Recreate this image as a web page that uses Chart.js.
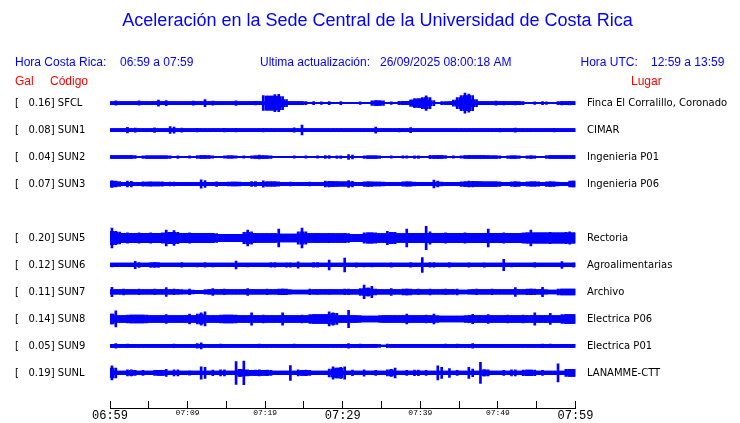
<!DOCTYPE html>
<html><head><meta charset="utf-8">
<script src="https://cdn.jsdelivr.net/npm/chart.js@4.4.1/dist/chart.umd.min.js"></script>
<style>html,body{margin:0;padding:0;background:#fff}</style>
</head><body>
<canvas id="c" width="740" height="423"></canvas>
<script>
// ---- data ----
const codes = ['SFCL','SUN1','SUN2','SUN3','SUN5','SUN6','SUN7','SUN8','SUN9','SUNL'];
const peakGal = [0.16,0.08,0.04,0.07,0.20,0.12,0.11,0.14,0.05,0.19];
const places = ['Finca El Corralillo, Coronado','CIMAR','Ingenieria P01','Ingenieria P06','Rectoria','Agroalimentarias','Archivo','Electrica P06','Electrica P01','LANAMME-CTT'];
const rowIndex = [0,1,2,3,5,6,7,8,9,10];           // SUN4 slot is empty
const timeLabels = ['06:59','07:09','07:19','07:29','07:39','07:49','07:59'];
const binMinutes = 0.5;                              // envelope bins (half minute)

// half-amplitude envelopes in mGal, one value per half-minute bin (06:59 -> 07:59)
const envSFCL = [
 26,35,26,26,26,26,26,35,26,26, 26,26,48,26,42,26,26,26,26,26,
 26,32,26,26,56,26,32,26,26,26, 26,26,37,26,26,26,26,29,26,120,
 113,113,137,140,105,56,24,24,24,24, 24,11,24,11,21,11,24,11,11,24,
 11,11,11,11,21,11,11,37,42,37, 37,11,21,11,27,27,27,53,72,69,
 89,118,89,40,11,24,21,24,48,89, 121,161,145,121,56,24,24,24,24,32,
 24,29,24,24,29,24,24,11,11,21, 11,24,21,11,11,26,29,26,29,26];
const envSUN1 = [
 24,24,24,24,45,24,32,24,24,24, 24,37,24,24,24,56,50,24,32,24,
 24,24,29,24,24,24,24,24,24,29, 24,24,29,24,24,24,24,24,24,29,
 24,24,24,24,24,24,24,35,24,80, 24,24,24,24,24,24,24,24,24,24,
 24,24,24,24,24,24,24,24,48,24, 24,24,24,24,29,24,24,40,24,24,
 24,24,24,24,24,24,24,24,24,24, 24,24,24,24,24,24,24,24,24,24,
 29,24,24,24,32,24,24,24,24,24, 24,24,24,24,29,24,24,24,24,24];
const envSUN2 = [
 24,24,24,24,24,24,24,11,21,21, 21,21,21,21,21,21,11,21,11,11,
 18,11,24,24,24,24,18,11,11,18, 18,18,18,11,18,11,21,21,32,24,
 21,21,11,11,11,11,11,18,11,11, 18,11,11,18,11,24,24,11,21,21,
 11,40,30,11,11,21,21,21,21,21, 11,11,18,11,11,18,18,11,21,21,
 11,11,27,24,24,24,24,11,18,11, 18,24,24,24,24,24,24,24,21,21,
 21,11,21,21,21,21,11,21,21,21, 11,11,24,24,24,24,24,24,24,24];
const envSUN3 = [
 53,48,40,27,48,45,27,27,35,30, 35,32,30,35,27,32,32,27,27,27,
 27,27,27,67,56,27,27,37,27,27, 32,32,32,32,27,27,40,40,27,51,
 35,35,35,35,27,27,32,27,27,27, 27,32,27,27,27,48,45,40,40,35,
 35,56,45,27,27,37,37,37,32,32, 32,27,27,27,27,35,35,35,32,27,
 27,27,27,64,48,32,27,27,27,27, 37,37,48,45,40,40,37,37,37,37,
 37,27,27,37,37,37,27,35,35,35, 35,27,37,37,37,32,27,27,48,48];
const envSUN5 = [
 161,107,97,77,85,77,75,82,77,75, 85,77,75,82,129,92,121,92,77,75,
 82,75,77,75,77,75,77,70,58,58, 58,58,58,58,92,129,100,77,70,70,
 70,70,70,145,62,62,62,62,100,161, 100,70,70,75,70,70,75,70,70,70,
 75,70,58,58,58,85,85,85,85,70, 70,108,92,92,70,70,145,77,77,77,
 77,190,100,75,77,75,82,75,77,75, 75,82,75,77,75,77,75,145,75,77,
 75,82,75,77,75,75,85,85,129,85, 85,85,85,90,85,85,85,90,100,85];
const envSUN6 = [
 32,29,29,29,29,29,60,40,29,29, 40,37,40,29,29,29,29,29,37,29,
 29,29,32,29,37,29,32,29,29,29, 29,29,64,29,29,32,29,29,29,29,
 29,37,37,29,29,35,35,29,53,29, 29,29,37,37,29,29,80,29,29,29,
 113,29,29,35,29,32,29,32,29,29, 29,29,35,29,29,29,29,37,29,29,
 120,29,37,37,29,29,29,37,29,29, 29,29,35,29,29,29,35,29,29,29,
 29,93,29,32,29,29,29,29,29,37, 29,29,29,29,29,29,56,29,29,35];
const envSUN7 = [
 75,37,37,48,37,37,37,45,37,37, 37,45,37,37,72,37,45,37,37,30,
 45,30,27,27,37,37,56,37,37,45, 37,37,37,37,37,56,37,37,37,37,
 45,37,37,45,45,45,37,30,32,32, 32,45,37,40,37,37,40,37,37,37,
 45,45,37,37,56,110,64,90,48,37, 37,37,56,37,37,48,48,48,37,45,
 37,37,48,37,37,37,45,37,37,48, 32,32,37,37,45,37,37,37,45,37,
 37,37,37,37,72,37,37,45,45,45, 37,75,37,30,30,48,48,48,48,48];
const envSUN8 = [
 80,130,56,56,64,64,64,64,64,64, 56,56,56,56,72,56,56,56,56,56,
 80,56,80,100,113,56,56,56,64,64, 64,64,64,56,56,56,100,56,56,64,
 56,56,56,56,100,56,56,56,56,64, 56,72,72,72,72,72,113,100,90,56,
 56,140,56,56,56,48,48,48,48,56, 56,56,56,56,56,56,80,56,56,56,
 56,64,56,80,56,48,48,48,48,48, 48,56,56,75,56,56,56,72,56,56,
 56,56,64,56,56,56,64,56,56,100, 56,56,56,90,56,56,72,72,72,72];
const envSUN9 = [
 24,37,24,24,29,24,24,24,24,24, 24,24,24,24,24,24,29,24,24,24,
 24,24,37,50,24,24,24,24,29,24, 24,24,24,24,24,24,24,24,29,24,
 24,24,24,24,24,24,24,29,24,24, 24,24,24,24,24,24,24,24,24,24,
 24,37,24,24,29,24,24,24,24,24, 13,29,24,24,24,24,24,24,24,24,
 24,24,24,24,24,24,29,24,24,29, 24,24,24,37,24,24,24,24,24,24,
 24,24,24,24,24,24,24,24,24,24, 24,29,24,29,24,24,24,24,24,24];
const envSUNL = [
 113,80,29,29,48,48,40,29,40,29, 29,40,40,40,56,29,48,48,29,29,
 35,29,29,100,90,29,45,29,48,48, 29,29,185,56,190,48,40,45,48,40,
 45,40,29,29,29,29,120,29,48,40, 45,40,29,29,29,29,64,100,80,90,
 100,29,45,29,29,51,29,29,40,29, 29,48,56,80,29,29,40,29,45,45,
 29,40,29,29,113,90,29,72,29,40, 29,29,90,60,29,170,48,48,29,29,
 29,40,29,48,48,29,45,45,45,45, 29,40,29,29,29,145,29,56,56,56];
const envelopes = [envSFCL,envSUN1,envSUN2,envSUN3,envSUN5,envSUN6,envSUN7,envSUN8,envSUN9,envSUNL];

// ---- rendering ----
const BLUE = '#0000ff';
const ROWS_PER_MGAL = 0.062 / 27;   // display gain: ~62 px per Gal, 27 px per trace row
const leftLabels = codes.map((c,i) => '[   ' + peakGal[i].toFixed(2) + '] ' + c);

const datasets = [];
envelopes.forEach((env, i) => {
  const r = rowIndex[i];
  const floor = env.map((v,k) => Math.min(v, env[k-1] ?? v, env[k+1] ?? v));
  const toBars = arr => arr.map((a,k) => ({x:(k+0.5)*binMinutes, y:[r - a*ROWS_PER_MGAL, r + a*ROWS_PER_MGAL]}));
  datasets.push({data: toBars(floor), backgroundColor: BLUE, barThickness: 4.4, grouped: false, borderWidth: 0});
  datasets.push({data: toBars(env), backgroundColor: BLUE, barThickness: 2, grouped: false, borderWidth: 0});
});

const headerTexts = [
  ['Hora Costa Rica:', 15, 65.5, BLUE], ['06:59 a 07:59', 120, 65.5, BLUE],
  ['Ultima actualización:', 260, 65.5, BLUE], ['26/09/2025 08:00:18 AM', 380, 65.5, BLUE],
  ['Hora UTC:', 580.5, 65.5, BLUE], ['12:59 a 13:59', 651, 65.5, BLUE],
  ['Gal', 15, 84.5, '#ff0000'], ['Código', 50, 84.5, '#ff0000'], ['Lugar', 631, 84.5, '#ff0000']
];
const headerPlugin = {
  id: 'header',
  afterDraw(chart) {
    const ctx = chart.ctx;
    ctx.save();
    ctx.font = '12px "Liberation Sans", Arial, sans-serif';
    ctx.textBaseline = 'alphabetic';
    ctx.textAlign = 'left';
    headerTexts.forEach(([t,x,y,c]) => { ctx.fillStyle = c; ctx.fillText(t, x, y); });
    ctx.restore();
  }
};

const monoBig = {family:'"Liberation Mono", monospace', size:12, weight:'normal'};
const monoSmall = {family:'"Liberation Mono", monospace', size:8, weight:'normal'};
const labelFont = {family:'"DejaVu Sans", sans-serif', size:10, weight:'normal'};
const noEdgePadding = s => { s.paddingTop = 0; s.paddingBottom = 0; };

new Chart(document.getElementById('c'), {
  type: 'bar',
  data: { datasets },
  plugins: [headerPlugin],
  options: {
    responsive: false,
    animation: false,
    events: [],
    layout: { padding: { left: 15, right: 0, top: 0, bottom: 0 } },
    plugins: {
      legend: { display: false },
      tooltip: { enabled: false },
      title: {
        display: true,
        text: 'Aceleración en la Sede Central de la Universidad de Costa Rica',
        color: BLUE,
        font: { family: '"Liberation Sans", Arial, sans-serif', size: 18, weight: 'normal' },
        padding: { top: 10, bottom: 58 }
      }
    },
    scales: {
      x: {
        type: 'linear', position: 'bottom', min: 0, max: 60, offset: false,
        grid: { display: true, drawOnChartArea: false, drawTicks: true, tickLength: -7, tickColor: '#000', color: '#000', offset: false },
        border: { display: true, color: '#000', width: 1 },
        ticks: {
          stepSize: 5, autoSkip: false, maxRotation: 0, minRotation: 0, padding: 7.5, color: '#000',
          callback: v => (v % 10 === 0 ? timeLabels[v / 10] : ''),
          font: ctx => (ctx.tick && ctx.tick.value % 30 === 0) ? monoBig : monoSmall
        },
        afterFit: s => { s.height = 15; }
      },
      y: {
        type: 'linear', position: 'left', reverse: true, min: -0.5, max: 11.3,
        grid: { display: false, drawTicks: false }, border: { display: false },
        afterBuildTicks: s => { s.ticks = rowIndex.map(v => ({ value: v })); },
        ticks: {
          autoSkip: false, crossAlign: 'far', padding: 0, color: '#000', font: labelFont,
          callback: v => { const i = rowIndex.indexOf(v); return i < 0 ? '' : leftLabels[i]; }
        },
        afterFit: s => { s.width = 95; noEdgePadding(s); }
      },
      yR: {
        axis: 'y', type: 'linear', display: true, position: 'right', reverse: true, min: -0.5, max: 11.3,
        grid: { display: false, drawTicks: false }, border: { display: false },
        afterBuildTicks: s => { s.ticks = rowIndex.map(v => ({ value: v })); },
        ticks: {
          autoSkip: false, crossAlign: 'near', padding: 11.5, color: '#000', font: labelFont,
          callback: v => { const i = rowIndex.indexOf(v); return i < 0 ? '' : places[i]; }
        },
        afterFit: s => { s.width = 164.5; noEdgePadding(s); }
      }
    }
  }
});
</script>
</body></html>
